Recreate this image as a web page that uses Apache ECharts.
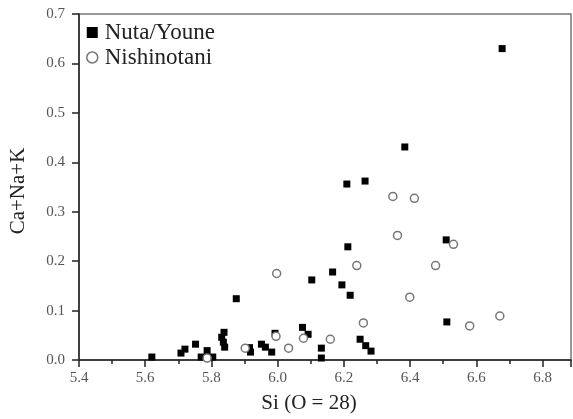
<!DOCTYPE html>
<html><head><meta charset="utf-8">
<script src="https://cdn.jsdelivr.net/npm/echarts@6/dist/echarts.min.js"></script>
<style>html,body{margin:0;padding:0;background:#fff}#c{width:573px;height:419px}</style>
</head><body><div id="c"></div>
<script>
const seriesNames = ['Nuta/Youne', 'Nishinotani'];
const nutaSi = [5.620,5.708,5.720,5.752,5.769,5.787,5.804,5.838,5.831,5.836,5.840,5.875,5.915,5.918,5.951,5.963,5.982,5.992,6.075,6.092,6.103,6.132,6.132,6.166,6.194,6.209,6.212,6.219,6.249,6.264,6.266,6.282,6.384,6.509,6.511,6.678];
const nutaCNK = [0.006,0.014,0.022,0.032,0.006,0.019,0.006,0.056,0.046,0.036,0.026,0.124,0.025,0.016,0.032,0.026,0.016,0.054,0.066,0.052,0.162,0.024,0.004,0.178,0.152,0.356,0.229,0.131,0.042,0.362,0.029,0.018,0.431,0.243,0.077,0.630];
const nishiSi = [5.787,5.902,5.995,5.997,6.033,6.078,6.159,6.239,6.259,6.348,6.362,6.399,6.413,6.477,6.531,6.580,6.671];
const nishiCNK = [0.004,0.024,0.048,0.175,0.024,0.044,0.042,0.191,0.075,0.331,0.252,0.127,0.327,0.191,0.234,0.069,0.089];
const xAxisName = 'Si (O = 28)';
const yAxisName = 'Ca+Na+K';

const pairs = (xs, ys) => xs.map((x, i) => [x, ys[i]]);
const serif = '"Liberation Serif", "DejaVu Serif", serif';
const chart = echarts.init(document.getElementById('c'));
chart.setOption({
  animation: false,
  grid: { left: 65, right: 2, top: 14, bottom: 54.5, show: true, borderColor: '#777', borderWidth: 1.5, backgroundColor: 'transparent' },
  legend: {
    orient: 'vertical', left: 81, top: 16, itemWidth: 11, itemHeight: 11, itemGap: 2,
    textStyle: { fontFamily: serif, fontSize: 23, color: '#222', padding: [0,0,0,2] },
    data: [
      { name: seriesNames[0], icon: 'rect', itemStyle: { color: '#000', opacity: 1 } },
      { name: seriesNames[1], icon: 'circle', itemStyle: { color: '#fff', borderColor: '#777', borderWidth: 1.5, opacity: 1 } }
    ]
  },
  xAxis: {
    type: 'value', min: 5.4, max: 6.886, interval: 0.2,
    name: xAxisName, nameLocation: 'middle', nameGap: 33,
    nameTextStyle: { fontFamily: serif, fontSize: 21, color: '#222', padding: [0, 32, 0, 0] },
    axisLine: { show: true, onZero: false, lineStyle: { color: '#222', width: 1.5 } },
    axisTick: { show: true, inside: false, length: 7, lineStyle: { color: '#222', width: 1.5 } },
    minorTick: { show: true, splitNumber: 2, length: 4, lineStyle: { color: '#222', width: 1.5 } },
    splitLine: { show: false },
    axisLabel: { fontFamily: serif, fontSize: 15, color: '#555', margin: 11, formatter: v => v.toFixed(1), showMaxLabel: false }
  },
  yAxis: {
    type: 'value', min: 0, max: 0.7, interval: 0.1,
    name: yAxisName, nameLocation: 'middle', nameGap: 50, nameRotate: 90,
    nameTextStyle: { fontFamily: serif, fontSize: 21, color: '#222', padding: [0, 8, 0, 0] },
    axisLine: { show: true, lineStyle: { color: '#222', width: 1.5 } },
    axisTick: { show: true, inside: false, length: 7, lineStyle: { color: '#222', width: 1.5 } },
    splitLine: { show: false },
    axisLabel: { fontFamily: serif, fontSize: 15, color: '#555', margin: 14, formatter: v => v.toFixed(1) }
  },
  series: [
    { name: seriesNames[0], type: 'scatter', symbol: 'rect', symbolSize: 7,
      itemStyle: { color: '#000', opacity: 1 }, data: pairs(nutaSi, nutaCNK) },
    { name: seriesNames[1], type: 'scatter', symbol: 'circle', symbolSize: 8,
      itemStyle: { color: '#fff', borderColor: '#777', borderWidth: 1.5, opacity: 1 }, data: pairs(nishiSi, nishiCNK) }
  ]
});
</script></body></html>
